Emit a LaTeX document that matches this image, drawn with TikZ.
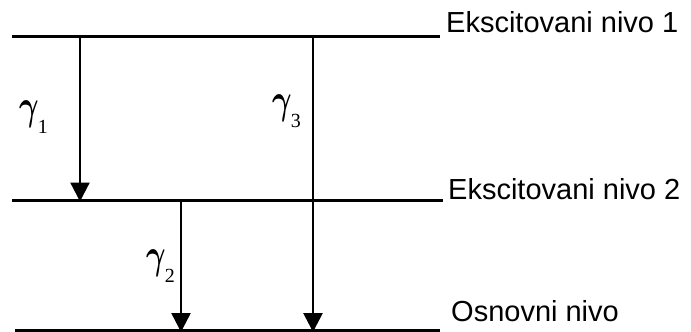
\documentclass[tikz,border=0pt]{standalone}
\usepackage{fontspec}
\usepackage{amsmath}
\usepackage{bm}
\setmainfont{Liberation Sans}
\newfontfamily\grk{Liberation Serif}
\usetikzlibrary{arrows.meta}
\newcommand{\gam}[1]{\scalebox{3.0}[4.2]{$\bm{\gamma}$}\kern-1pt\raisebox{-14pt}{\grk\fontsize{20}{20}\selectfont #1}}
\begin{document}
\begin{tikzpicture}[x=1pt,y=-1pt,
  level/.style={line width=3pt},
  trans/.style={line width=2.5pt,-{Triangle[width=19pt,length=19pt]}, shorten >=-1.5pt},
  lbl/.style={anchor=base west,inner sep=0pt,font=\fontsize{29}{30}\selectfont},
  glbl/.style={anchor=base west,inner sep=0pt}]
\useasboundingbox (0,0) rectangle (691,332);
% level ends
\coordinate (l1a) at (12,36);  \coordinate (l1b) at (440,36);
\coordinate (l2a) at (12,200); \coordinate (l2b) at (443,200);
\coordinate (l3a) at (15,330.5); \coordinate (l3b) at (440,330.5);
\draw[level] (l1a) -- (l1b);
\draw[level] (l2a) -- (l2b);
\draw[level] (l3a) -- (l3b);
% transitions
\coordinate (t1s) at (80,36);  \coordinate (t1e) at (80,200);
\coordinate (t2s) at (181,200); \coordinate (t2e) at (181,330.5);
\coordinate (t3s) at (313,36); \coordinate (t3e) at (313,330.5);
\draw[trans,line width=2.3pt] (t1s) -- (t1e);
\draw[trans] (t2s) -- (t2e);
\draw[trans,line width=2.8pt] (t3s) -- (t3e);
% labels
\node[lbl] (n1) at (446,32) {Ekscitovani nivo 1};
\node[lbl] (n2) at (448,199) {Ekscitovani nivo 2};
\node[lbl] (n3) at (451,321) {Osnovni nivo};
\node[glbl] (g1) at (19,119) {\gam{1}};
\node[glbl] (g3) at (272,113) {\gam{3}};
\node[glbl] (g2) at (146,268) {\gam{2}};
\end{tikzpicture}
\end{document}
